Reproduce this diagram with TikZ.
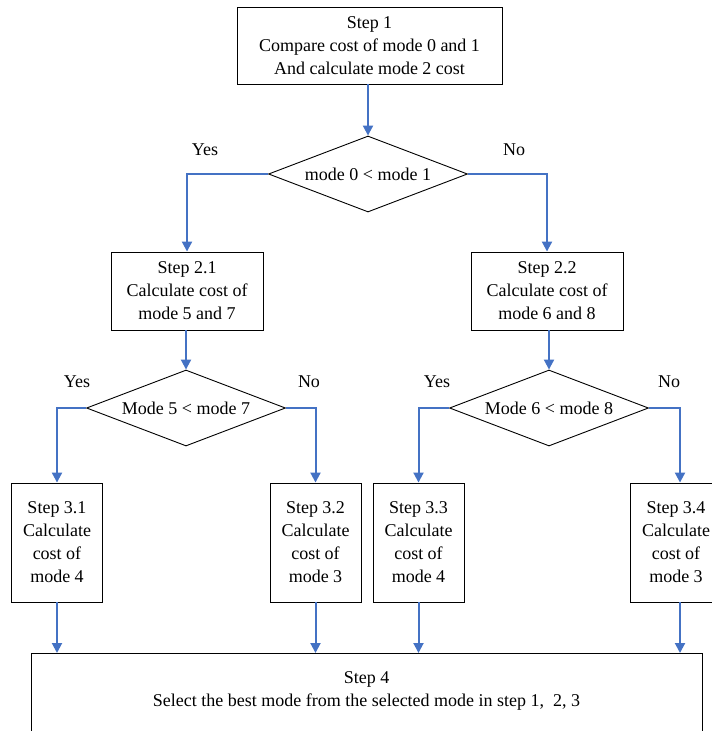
\documentclass[tikz,border=0pt]{standalone}
\usepackage{fontspec}
\setmainfont{Liberation Serif}
\usetikzlibrary{shapes,arrows.meta,positioning,calc}
\definecolor{flowblue}{RGB}{68,114,196}

\begin{document}
\begin{tikzpicture}[x=1pt, y=-1pt,
    every node/.style={font=\fontsize{18}{23}\selectfont},
    stepbox/.style={draw, line width=0.9pt, align=center, inner sep=0pt},
    decision/.style={draw, diamond, aspect=2.62, line width=0.9pt, inner sep=0pt,
        minimum width=199pt, minimum height=76pt},
    flow/.style={draw=flowblue, line width=2pt, -{Triangle[length=10pt,width=10pt]}}]
    \useasboundingbox (0,0) rectangle (712,731);
    \clip (0,0) rectangle (712,731);

    % Step 1 and first decision
    \node[stepbox, minimum width=265pt, minimum height=77pt] (s1) at (369.5,45.5)
        {Step 1\\Compare cost of mode 0 and 1\\And calculate mode 2 cost};
    \node[decision] (d1) at (368,174) {mode 0 {<} mode 1};
    \node (yes1) at (205,150) {Yes};
    \node (no1) at (514,150) {No};

    % Step 2 boxes
    \node[stepbox, minimum width=152pt, minimum height=78pt] (s21) at (187,291)
        {Step 2.1\\Calculate cost of\\mode 5 and 7};
    \node[stepbox, minimum width=152pt, minimum height=78pt] (s22) at (547,291)
        {Step 2.2\\Calculate cost of\\mode 6 and 8};

    % second level decisions
    \node[decision] (d2) at (186,408) {Mode 5 {<} mode 7};
    \node[decision] (d3) at (549,408) {Mode 6 {<} mode 8};
    \node (yes2) at (77,382) {Yes};
    \node (no2) at (309,382) {No};
    \node (yes3) at (437,382) {Yes};
    \node (no3) at (669,382) {No};

    % Step 3 boxes
    \foreach \i/\x/\m in {1/57/4, 2/315.5/3, 3/418.5/4, 4/676/3} {
        \node[stepbox, minimum width=91pt, minimum height=119pt] (s3\i) at (\x,542.5)
            {Step 3.\i\\Calculate\\cost of\\mode \m};
    }
    \coordinate (in34) at ($(s34.north)+(4,0)$);
    \coordinate (out34) at ($(s34.south)+(4,0)$);

    % Step 4
    \node[stepbox, anchor=north, minimum width=671pt, minimum height=110pt] (s4) at (366.5,653) {};
    \node[align=center] (s4txt) at (366.5,691)
        {Step 4\\Select the best mode from the selected mode in step 1,\ \ 2, 3};

    % connectors
    \draw[flow] (d1.north |- s1.south) -- (d1.north);
    \draw[flow] (d1.west) -| (s21.north);
    \draw[flow] (d1.east) -| (s22.north);
    \draw[flow] (d2.north |- s21.south) -- (d2.north);
    \draw[flow] (d3.north |- s22.south) -- (d3.north);
    \draw[flow] (d2.west) -| (s31.north);
    \draw[flow] (d2.east) -| (s32.north);
    \draw[flow] (d3.west) -| (s33.north);
    \draw[flow] (d3.east) -| (in34);
    \foreach \i in {1,2,3} {
        \draw[flow] (s3\i) -- (s3\i |- s4.north);
    }
    \draw[flow] (out34) -- (out34 |- s4.north);
\end{tikzpicture}
\end{document}
